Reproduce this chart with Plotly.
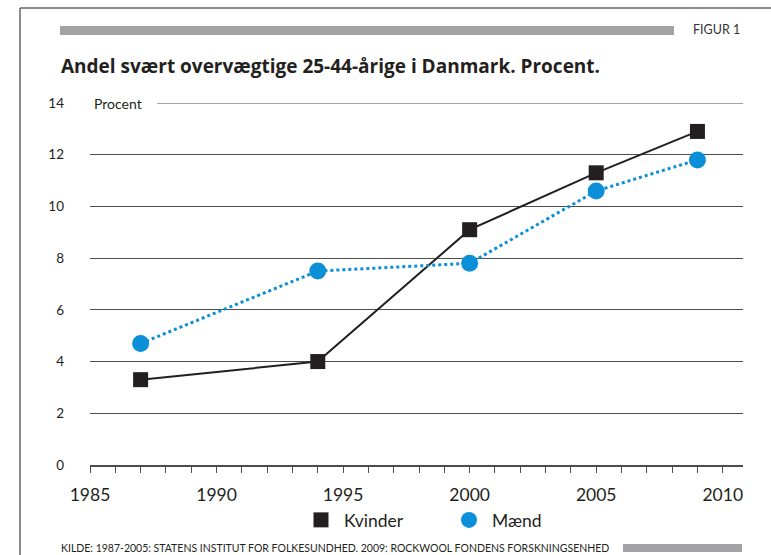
import plotly.graph_objects as go

years = [1987, 1994, 2000, 2005, 2009]
kvinder = [3.3, 4.0, 9.1, 11.3, 12.9]
maend = [4.7, 7.5, 7.8, 10.6, 11.8]
y_ticks = [0, 2, 4, 6, 8, 10, 12, 14]
x_ticks = [1985, 1990, 1995, 2000, 2005, 2010]

title = "Andel svært overvægtige 25-44-årige i Danmark. Procent."
source = "KILDE: 1987-2005: STATENS INSTITUT FOR FOLKESUNDHED. 2009: ROCKWOOL FONDENS FORSKNINGSENHED"

BLACK = "#231f20"
BLUE = "#0a8fd8"
GRID = "#4d4d4d"
FONT = "Lato, 'Open Sans', sans-serif"

fig = go.Figure()
fig.add_trace(go.Scatter(x=years, y=kvinder, mode="lines", line=dict(color=BLACK, width=2),
                         showlegend=False, hoverinfo="skip"))
fig.add_trace(go.Scatter(x=years, y=maend, mode="lines", line=dict(color=BLUE, width=3, dash="dot"),
                         showlegend=False, hoverinfo="skip"))
fig.add_trace(go.Scatter(x=years, y=kvinder, mode="markers", name="Kvinder",
                         marker=dict(symbol="square", size=15, color=BLACK)))
fig.add_trace(go.Scatter(x=years, y=maend, mode="markers", name="Mænd",
                         marker=dict(symbol="circle", size=17, color=BLUE)))

W, H = 771, 555
L, R, T, B = 90, 28, 103, 90
PW, PH = W - L - R, H - T - B


def px(x):
    return (x - L) / PW


def py(y):  # y measured from top of page
    return (H - y - B) / PH


fig.update_layout(
    width=W, height=H,
    margin=dict(l=L, r=R, t=T, b=B),
    paper_bgcolor="white", plot_bgcolor="white",
    font=dict(family=FONT, color=BLACK),
    showlegend=True,
    legend=dict(orientation="h", x=px(298), xanchor="left", y=py(520), yanchor="middle",
                font=dict(size=17.5, color=BLACK), entrywidth=97, itemwidth=36, itemsizing="trace"),
    xaxis=dict(range=[1985, 2010.8], tickvals=x_ticks, ticktext=[str(v) for v in x_ticks],
               ticks="outside", ticklen=6, tickwidth=1, tickcolor=GRID,
               minor=dict(dtick=1, tick0=1985, ticks="outside", ticklen=6, tickwidth=1, tickcolor=GRID, showgrid=False),
               showline=True, linecolor=GRID, linewidth=1.5, showgrid=False, zeroline=False,
               tickfont=dict(size=17.5, color=BLACK), ticklabelstandoff=7),
    yaxis=dict(range=[0, 14], tickvals=y_ticks, ticktext=[str(v) for v in y_ticks],
               showgrid=True, gridcolor=GRID, gridwidth=1.2, zeroline=False, showline=False,
               ticks="", tickfont=dict(size=13.5, color=BLACK), ticklabelstandoff=25),
)

fig.add_annotation(x=px(92), y=14, xref="paper", yref="y", text="Procent", showarrow=False,
                   xanchor="left", yanchor="middle", font=dict(size=14, color=BLACK))
fig.add_annotation(x=px(59), y=py(66), xref="paper", yref="paper", text=f"<b>{title}</b>", showarrow=False,
                   xanchor="left", yanchor="middle", font=dict(size=19, color=BLACK, family="'Open Sans', sans-serif"))
fig.add_annotation(x=px(742), y=py(30), xref="paper", yref="paper", text="FIGUR 1", showarrow=False,
                   xanchor="right", yanchor="middle", font=dict(size=12.5, color="#333333"))
fig.add_annotation(x=px(59), y=py(548), xref="paper", yref="paper", text=source, showarrow=False,
                   xanchor="left", yanchor="middle", font=dict(size=10.5, color=BLACK))

shapes = [
    dict(type="line", xref="paper", yref="paper", x0=px(20), x1=px(771), y0=py(8), y1=py(8),
         line=dict(color="#666666", width=1.5)),
    dict(type="line", xref="paper", yref="paper", x0=px(20), x1=px(20), y0=py(8), y1=py(556),
         line=dict(color="#666666", width=1.5)),
    dict(type="rect", xref="paper", yref="paper", x0=px(60), x1=px(674), y0=py(35), y1=py(26),
         fillcolor="#a3a3a5", line=dict(width=0)),
    dict(type="rect", xref="paper", yref="paper", x0=px(623), x1=px(742), y0=py(552), y1=py(544),
         fillcolor="#a3a3a5", line=dict(width=0)),
    # the 14-line begins after the "Procent" label
    dict(type="line", xref="paper", yref="y", x0=px(157), x1=1, y0=14, y1=14,
         line=dict(color=GRID, width=1.2)),
]
fig.update_layout(shapes=shapes)

fig.write_html("out.html", config={"displayModeBar": False},
               post_script="document.body.style.margin='0px';")
